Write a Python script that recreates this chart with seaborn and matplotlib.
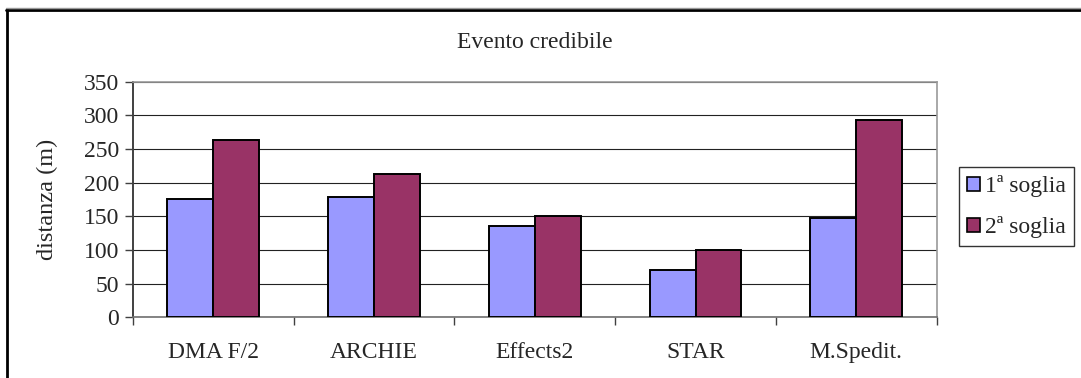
import matplotlib
matplotlib.use("Agg")
import matplotlib.pyplot as plt
from matplotlib.lines import Line2D
from matplotlib.patches import Patch
import seaborn as sns
import pandas as pd

# Data
categories = ["DMA F/2", "ARCHIE", "Effects2", "STAR", "M.Spedit."]
soglia_1 = [175, 178, 136, 70, 148]
soglia_2 = [264, 213, 150, 100, 293]
series_names = ["1ª soglia", "2ª soglia"]
y_ticks = [0, 50, 100, 150, 200, 250, 300, 350]

colors = ["#9999FF", "#993366"]

sns.set_theme(style="white")
plt.rcParams["font.family"] = ["Liberation Serif", "DejaVu Serif"]
plt.rcParams["font.size"] = 17

df = pd.DataFrame({
    "categoria": categories * 2,
    "serie": [series_names[0]] * len(categories) + [series_names[1]] * len(categories),
    "distanza": soglia_1 + soglia_2,
})

fig = plt.figure(figsize=(10.81, 3.78), dpi=100)
ax = fig.add_axes([0.1228, 0.1606, 0.7437, 0.6233])

sns.barplot(data=df, x="categoria", y="distanza", hue="serie",
            palette=colors, width=0.5714, gap=0, errorbar=None,
            edgecolor="black", linewidth=1.4, ax=ax, legend=False,
            saturation=1, zorder=3)

ax.set_ylim(0, 350)
ax.set_xlim(-0.5, len(categories) - 0.5)
ax.set_yticks(y_ticks)
ax.set_yticklabels([str(v) for v in y_ticks], fontsize=17)
ax.yaxis.grid(True, color="#222222", linewidth=0.8, zorder=0)
ax.set_axisbelow(True)

# category labels centred, tick marks at category boundaries
ax.set_xticks(range(len(categories)))
ax.set_xticklabels(categories, fontsize=17)
ax.tick_params(axis="x", which="major", length=0, pad=18)
ax.set_xticks([i - 0.5 for i in range(len(categories) + 1)], minor=True)
ax.tick_params(axis="x", which="minor", length=6, width=1, color="#404040",
               direction="out", bottom=True)
ax.tick_params(axis="y", length=6, width=1, color="#404040",
               direction="out", left=True, pad=4)

ax.set_xlabel("")
ax.set_ylabel("distanza (m)", fontsize=17.5, labelpad=18)

for side in ["top", "right"]:
    ax.spines[side].set_color("#999999")
    ax.spines[side].set_linewidth(1.2)
ax.spines["left"].set_color("#404040")
ax.spines["left"].set_linewidth(1.4)
ax.spines["bottom"].set_color("#707070")
ax.spines["bottom"].set_linewidth(1.2)

fig.text(0.4947, 1 - 43 / 378, "Evento credibile", ha="center", va="center",
         fontsize=17)

handles = [Patch(facecolor=c, edgecolor="black", linewidth=1.2) for c in colors]
leg = fig.legend(handles, series_names, loc="upper left",
                 bbox_to_anchor=(959 / 1081, 1 - 167 / 378),
                 frameon=True, fancybox=False, shadow=False, fontsize=17,
                 handlelength=0.55, handleheight=0.55, handletextpad=0.2,
                 borderpad=0.35, labelspacing=0.8, borderaxespad=0)
leg.get_frame().set_edgecolor("black")
leg.get_frame().set_linewidth(1.0)

# outer frame of the chart area
fig.add_artist(Line2D([6.5 / 1081, 6.5 / 1081], [0, 1 - 9 / 378],
                      transform=fig.transFigure, color="black", linewidth=2))
fig.add_artist(Line2D([5.5 / 1081, 1], [1 - 9.5 / 378, 1 - 9.5 / 378],
                      transform=fig.transFigure, color="black", linewidth=2))
fig.add_artist(Line2D([5.5 / 1081, 1], [1 - 7.5 / 378, 1 - 7.5 / 378],
                      transform=fig.transFigure, color="#999999", linewidth=1))

fig.savefig("out.png", dpi=100, facecolor="white")
